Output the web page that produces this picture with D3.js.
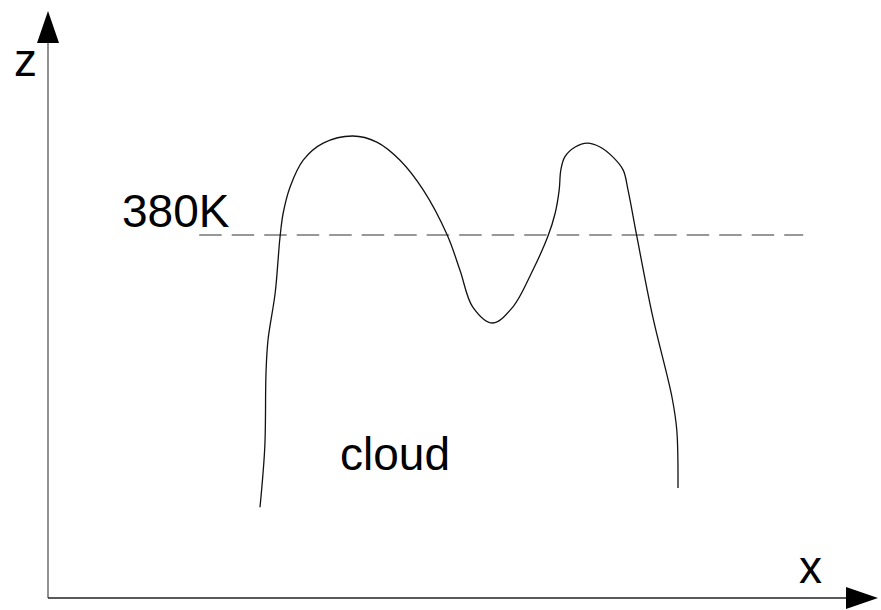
<!DOCTYPE html>
<html>
<head>
<meta charset="utf-8">
<script src="https://cdn.jsdelivr.net/npm/d3@7"></script>
<style>
  html, body { margin: 0; padding: 0; background: #fff; }
  svg { display: block; }
  text { font-family: "Liberation Sans", Arial, sans-serif; fill: #000; }
</style>
</head>
<body>
<svg id="chart" width="881" height="610"></svg>
<script>
// Sketch data (abstract units: x 0..100, z 0..100)
const cloudX = [26.5, 27.1, 27.25, 27.5, 28.4, 29.0, 29.4, 30.25, 31.9, 34.4, 38.1, 41.1, 44.0, 46.9, 49.9, 51.5, 53.1, 55.6, 58.1, 60.6, 62.5, 63.4, 63.9, 64.1, 64.6, 65.9, 67.4, 69.0, 70.6, 71.9, 72.5, 73.6, 75.6, 78.0, 78.6, 78.75];
const cloudZ = [16.5, 27.5, 40.9, 46.9, 55.5, 65.6, 70.0, 74.7, 79.6, 82.7, 84.0, 82.9, 79.6, 74.2, 66.0, 59.6, 52.9, 50.0, 52.9, 59.6, 65.8, 70.0, 74.2, 77.8, 80.2, 82.0, 82.7, 82.0, 80.2, 77.8, 74.2, 65.8, 51.1, 36.5, 30.5, 20.0];
const levelZ = 66;          // 380K isentrope
const levelXRange = [18.9, 94.4];
const levelLabel = "380K";
const axisLabels = ["x", "z"];
const cloudLabel = "cloud";
const cloudLabelPos = [36.5, 23];

const svg = d3.select("#chart");
const xS = d3.scaleLinear().domain([0, 100]).range([48, 848]);
const zS = d3.scaleLinear().domain([0, 100]).range([598, 48]);

// arrow markers
const defs = svg.append("defs");
defs.append("marker").attr("id", "arr")
  .attr("viewBox", "0 0 32 22").attr("refX", 0).attr("refY", 11)
  .attr("markerWidth", 32).attr("markerHeight", 22)
  .attr("markerUnits", "userSpaceOnUse").attr("orient", "auto")
  .append("path").attr("d", "M0,0 L32,11 L0,22 Z").attr("fill", "#000");

// axes
svg.append("line")
  .attr("x1", xS(0)).attr("y1", zS(0)).attr("x2", xS(0)).attr("y2", zS(100) - 5)
  .attr("stroke", "#555").attr("stroke-width", 1.3).attr("marker-end", "url(#arr)");
svg.append("line")
  .attr("x1", xS(0)).attr("y1", zS(0)).attr("x2", xS(100) - 2).attr("y2", zS(0))
  .attr("stroke", "#222").attr("stroke-width", 1.3).attr("marker-end", "url(#arr)");

// dashed 380K line
svg.append("line")
  .attr("x1", xS(levelXRange[0])).attr("x2", xS(levelXRange[1]))
  .attr("y1", zS(levelZ)).attr("y2", zS(levelZ))
  .attr("stroke", "#333").attr("stroke-width", 1.2)
  .attr("stroke-dasharray", "22.5,10");

// cloud outline
const pts = cloudX.map((x, i) => [x, cloudZ[i]]);
const line = d3.line().x(d => xS(d[0])).y(d => zS(d[1])).curve(d3.curveCatmullRom.alpha(0.5));
svg.append("path").attr("d", line(pts))
  .attr("fill", "none").attr("stroke", "#111").attr("stroke-width", 1.3);

// text
svg.append("text").attr("x", 122).attr("y", 227).attr("font-size", 46).text(levelLabel);
svg.append("text").attr("x", 14).attr("y", 76).attr("font-size", 46).text(axisLabels[1]);
svg.append("text").attr("x", 799).attr("y", 583).attr("font-size", 46).text(axisLabels[0]);
svg.append("text").attr("x", xS(cloudLabelPos[0])).attr("y", 470).attr("font-size", 46).text(cloudLabel);
</script>
</body>
</html>
